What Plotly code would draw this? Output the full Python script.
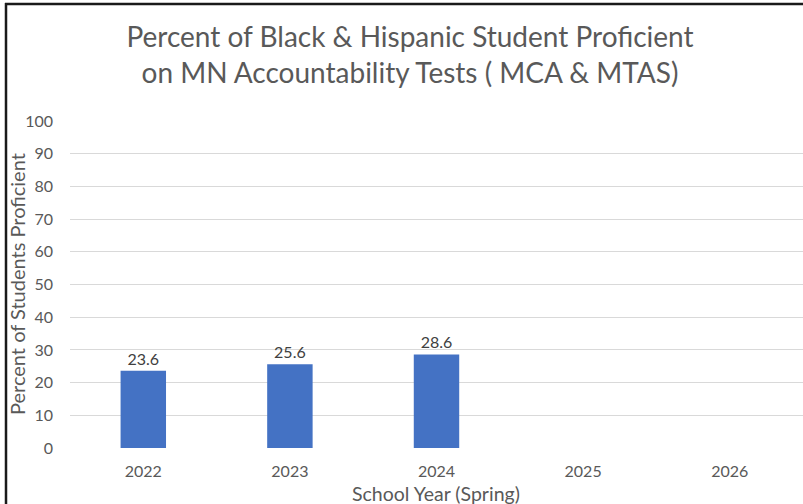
import plotly.graph_objects as go

years = ["2022", "2023", "2024", "2025", "2026"]
values = [23.6, 25.6, 28.6, None, None]
labels = ["23.6", "25.6", "28.6", "", ""]
y_ticks = [0, 10, 20, 30, 40, 50, 60, 70, 80, 90, 100]

FONT = "Lato"
GRAY = "#595959"

fig = go.Figure()
fig.add_trace(go.Bar(
    x=years, y=values, text=labels, textposition="outside",
    textfont=dict(family=FONT, size=16, color="#404040"),
    marker=dict(color="#4472C4", line=dict(width=0)),
    width=0.31, cliponaxis=False, hoverinfo="skip",
))

W, H = 803, 504
L, R, T, B = 70, 0, 121, 56
pw, ph = W - L - R, H - T - B

fig.update_layout(
    width=W, height=H,
    margin=dict(l=L, r=R, t=T, b=B),
    paper_bgcolor="white", plot_bgcolor="white",
    showlegend=False,
    title=dict(
        text="Percent of Black & Hispanic Student Proficient<br>on MN Accountability Tests ( MCA & MTAS)",
        x=410 / W, xanchor="center", xref="container",
        y=1 - 47 / H, yanchor="middle", yref="container",
        font=dict(family=FONT, size=28, color=GRAY),
    ),
    xaxis=dict(
        type="category", categoryorder="array", categoryarray=years,
        range=[-0.5, 4.5],
        showgrid=False, zeroline=False, showline=False,
        tickfont=dict(family=FONT, size=16, color=GRAY),
        ticks="", ticklabelstandoff=12,
    ),
    yaxis=dict(
        range=[0, 100], tickvals=y_ticks,
        showgrid=True, gridcolor="#d9d9d9", gridwidth=1,
        zeroline=False, showline=False,
        tickfont=dict(family=FONT, size=16, color=GRAY),
        ticks="", ticklabelstandoff=16,
    ),
    annotations=[
        dict(text="School Year (Spring)", xref="paper", yref="paper",
             x=(436 - L) / pw, y=(H - B - 493) / ph,
             xanchor="center", yanchor="middle", showarrow=False,
             font=dict(family=FONT, size=19.5, color=GRAY)),
        dict(text="Percent of Students Proficient", xref="paper", yref="paper",
             x=(17 - L) / pw, y=(H - B - 284) / ph, textangle=-90,
             xanchor="center", yanchor="middle", showarrow=False,
             font=dict(family=FONT, size=20, color=GRAY)),
    ],
    shapes=[
        dict(type="line", xref="paper", yref="paper",
             x0=(5 - L) / pw, x1=(W - L) / pw,
             y0=(H - B - 4) / ph, y1=(H - B - 4) / ph,
             line=dict(color="#1a1a1a", width=2.5)),
        dict(type="line", xref="paper", yref="paper",
             x0=(6 - L) / pw, x1=(6 - L) / pw,
             y0=(H - B - 3) / ph, y1=(H - B - H) / ph,
             line=dict(color="#1a1a1a", width=2.5)),
    ],
)

fig.write_html("out.html", config={"displayModeBar": False},
               post_script="document.body.style.margin='0';document.body.style.overflow='hidden';")
